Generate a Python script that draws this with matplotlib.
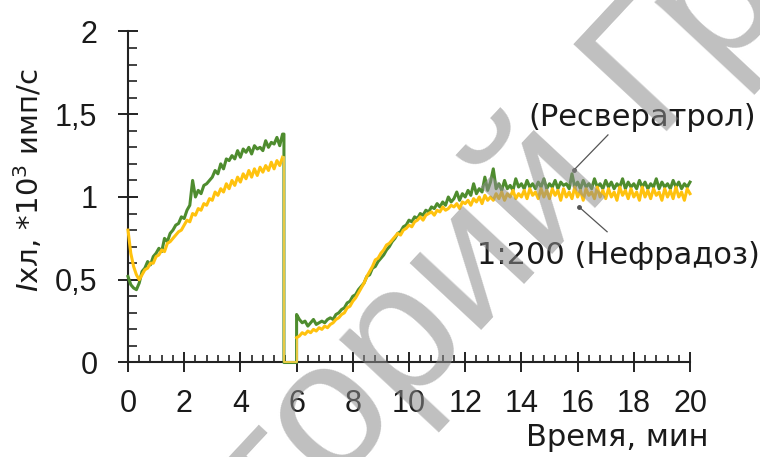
import numpy as np
import matplotlib
matplotlib.use("Agg")
import matplotlib.pyplot as plt
from matplotlib.ticker import MultipleLocator, FixedLocator, FixedFormatter

plt.rcParams["font.family"] = ["Liberation Sans", "DejaVu Sans"]
plt.rcParams["mathtext.fontset"] = "custom"
plt.rcParams["mathtext.rm"] = "DejaVu Sans"
plt.rcParams["mathtext.it"] = "DejaVu Sans:italic"

# time grid, min
t_before = np.round(np.arange(0.0, 5.51, 0.1), 2)
t_after = np.round(np.arange(6.0, 20.01, 0.1), 2)
t_cut = 5.55     # cuvette opened
t_back = 6.0     # measurement resumed

# chemiluminescence, *10^3 imp/s
green_before = [0.52, 0.47, 0.45, 0.44, 0.48, 0.55, 0.57, 0.61, 0.59, 0.64,
                0.66, 0.69, 0.67, 0.75, 0.73, 0.78, 0.80, 0.83, 0.84, 0.88,
                0.87, 0.92, 0.95, 1.10, 1.00, 1.04, 1.02, 1.07, 1.08, 1.10,
                1.12, 1.16, 1.14, 1.20, 1.17, 1.23, 1.22, 1.25, 1.23, 1.28,
                1.24, 1.29, 1.27, 1.30, 1.26, 1.31, 1.29, 1.30, 1.28, 1.34,
                1.30, 1.33, 1.32, 1.36, 1.31, 1.38]
green_after = [0.29, 0.26, 0.24, 0.25, 0.22, 0.24, 0.26, 0.23, 0.24, 0.25,
               0.24, 0.26, 0.27, 0.26, 0.29, 0.30, 0.32, 0.33, 0.36, 0.37,
               0.40, 0.41, 0.44, 0.46, 0.48, 0.52, 0.53, 0.57, 0.58, 0.61,
               0.63, 0.65, 0.68, 0.70, 0.73, 0.75, 0.78, 0.79, 0.82, 0.83,
               0.86, 0.85, 0.88, 0.87, 0.90, 0.89, 0.92, 0.91, 0.94, 0.93,
               0.96, 0.94, 0.97, 0.95, 1.00, 0.97, 0.99, 1.03, 0.98, 1.02,
               1.00, 1.04, 1.01, 1.08, 1.02, 1.05, 1.03, 1.12, 1.04, 1.09,
               1.17, 1.05, 1.08, 1.04, 1.10, 1.05, 1.07, 1.04, 1.11, 1.06,
               1.08, 1.05, 1.10, 1.06, 1.08, 1.05, 1.09, 1.06, 1.11, 1.05,
               1.08, 1.06, 1.10, 1.05, 1.09, 1.07, 1.08, 1.05, 1.14, 1.06,
               1.09, 1.05, 1.10, 1.06, 1.08, 1.05, 1.11, 1.06, 1.08, 1.05,
               1.10, 1.06, 1.09, 1.05, 1.08, 1.06, 1.11, 1.05, 1.09, 1.06,
               1.08, 1.05, 1.10, 1.06, 1.09, 1.05, 1.08, 1.06, 1.11, 1.05,
               1.09, 1.06, 1.08, 1.05, 1.10, 1.06, 1.09, 1.05, 1.08, 1.06,
               1.09]
yellow_before = [0.80, 0.66, 0.58, 0.53, 0.50, 0.53, 0.56, 0.57, 0.60, 0.60,
                 0.64, 0.65, 0.68, 0.67, 0.72, 0.73, 0.75, 0.77, 0.79, 0.80,
                 0.83, 0.86, 0.85, 0.90, 0.89, 0.93, 0.92, 0.96, 0.95, 0.99,
                 0.98, 1.03, 1.01, 1.05, 1.03, 1.08, 1.05, 1.10, 1.07, 1.12,
                 1.09, 1.14, 1.11, 1.16, 1.12, 1.17, 1.13, 1.18, 1.15, 1.19,
                 1.16, 1.21, 1.17, 1.22, 1.19, 1.24]
yellow_after = [0.15, 0.16, 0.18, 0.17, 0.19, 0.18, 0.20, 0.19, 0.21, 0.20,
                0.22, 0.21, 0.23, 0.24, 0.26, 0.27, 0.29, 0.30, 0.33, 0.34,
                0.37, 0.39, 0.42, 0.45, 0.48, 0.52, 0.55, 0.58, 0.62, 0.63,
                0.66, 0.68, 0.71, 0.72, 0.74, 0.76, 0.78, 0.77, 0.80, 0.81,
                0.83, 0.82, 0.85, 0.86, 0.88, 0.86, 0.89, 0.90, 0.91, 0.89,
                0.92, 0.91, 0.94, 0.92, 0.93, 0.95, 0.94, 0.96, 0.93, 0.97,
                0.96, 0.98, 0.95, 0.99, 0.97, 1.00, 0.96, 1.01, 0.98, 1.00,
                0.98, 1.02, 0.99, 1.03, 0.98, 1.02, 1.00, 1.04, 0.99, 1.02,
                1.00, 1.04, 0.99, 1.05, 1.01, 1.03, 0.99, 1.05, 1.00, 1.04,
                0.99, 1.05, 1.01, 1.04, 0.98, 1.05, 1.00, 1.03, 0.99, 1.06,
                1.00, 1.04, 0.98, 1.05, 1.01, 1.03, 0.99, 1.06, 1.00, 1.04,
                0.99, 1.05, 1.00, 1.03, 0.98, 1.06, 1.01, 1.04, 0.99, 1.05,
                1.00, 1.03, 0.98, 1.06, 1.00, 1.04, 0.99, 1.05, 1.01, 1.03,
                0.98, 1.05, 1.00, 1.04, 0.99, 1.06, 1.00, 1.03, 0.98, 1.05,
                1.02]

yticks = [0, 0.5, 1, 1.5, 2]
ytick_labels = ["0", "0,5", "1", "1,5", "2"]

green = "#4e8c2e"
yellow = "#ffc20e"
ink = "#1a1a1a"
cyr = ["DejaVu Sans"]

fig = plt.figure(figsize=(7.6, 4.57), dpi=100)
ax = fig.add_axes([0.1684, 0.2068, 0.7395, 0.7243])

gx = list(t_before) + [t_cut, t_cut, t_back] + list(t_after)
gy = green_before + [green_before[-1], 0, 0] + green_after
ax.plot(gx, gy, color=green, lw=2.2, clip_on=False, zorder=3)

# yellow: drawn in three pieces, the drop itself is a thin light line
ax.plot(t_before, yellow_before, color=yellow, lw=2.2, clip_on=False, zorder=4)
ax.plot([t_before[-1], t_cut, t_cut, t_back, t_back],
        [yellow_before[-1], yellow_before[-1], 0, 0, yellow_after[0]],
        color="#eccb45", lw=1.4, clip_on=False, zorder=4)
ax.plot(t_after, yellow_after, color=yellow, lw=2.2, clip_on=False, zorder=4)

ax.set_xlim(0, 20)
ax.set_ylim(0, 2)
for s in ["top", "right"]:
    ax.spines[s].set_visible(False)
for s in ["left", "bottom"]:
    ax.spines[s].set_linewidth(1.5)
    ax.spines[s].set_color("#222222")

ax.xaxis.set_major_locator(MultipleLocator(2))
ax.xaxis.set_minor_locator(MultipleLocator(0.4))
ax.yaxis.set_major_locator(FixedLocator(yticks))
ax.yaxis.set_major_formatter(FixedFormatter(ytick_labels))
ax.yaxis.set_minor_locator(MultipleLocator(0.1))

ax.tick_params(which="major", direction="inout", length=14, width=1.4,
               labelsize=22, color="#222222", labelcolor=ink)
ax.tick_params(axis="x", which="major", pad=12)
ax.tick_params(axis="y", which="major", pad=15)
ax.tick_params(axis="x", which="minor", direction="in", length=5, width=1.2,
               color="#222222")
ax.tick_params(axis="y", which="minor", direction="in", length=6.5, width=1.2,
               color="#222222")

fig.text(29 / 760, 1 - 180 / 457, r"$\it{I}$хл, *10$^3$ имп/с", rotation=90,
         ha="center", va="center", fontsize=21, color=ink, family=cyr)
fig.text(708 / 760, 1 - 437 / 457, "Время, мин", ha="right", va="center",
         fontsize=22, color=ink, family=cyr)

# leader lines to the curves
ax.plot([15.87, 17.08], [1.163, 1.375], color="#555555", lw=0.9, zorder=5,
        marker="o", markersize=2.5, markevery=[0])
ax.plot([16.05, 17.05], [0.94, 0.79], color="#555555", lw=0.9, zorder=5,
        marker="o", markersize=2.5, markevery=[0])
fig.text(642 / 760, 1 - 117 / 457, "(Ресвератрол)", ha="center", va="center",
         fontsize=22, color=ink, family=cyr)
fig.text(618 / 760, 1 - 255 / 457, "1:200 (Нефрадоз)", ha="center",
         va="center", fontsize=22, color=ink, family=cyr)

# repository watermark, split at the gap so "Г" lands where it is
wm = dict(rotation=47, rotation_mode="anchor", va="baseline", fontsize=134,
          color="0.55", alpha=0.55, zorder=10)
fig.text(652 / 760, 326 / 457, "ГрГМУ", ha="left", **wm)
fig.text(611 / 760, 282 / 457, "Репозиторий", ha="right", **wm)

fig.savefig("out.png", dpi=100)
